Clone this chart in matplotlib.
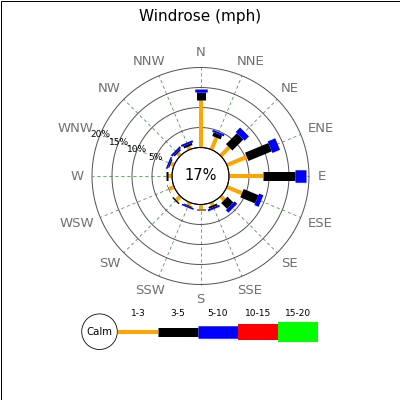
import numpy as np
import matplotlib
matplotlib.use("Agg")
import matplotlib.pyplot as plt
from matplotlib.patches import Circle, Rectangle
from matplotlib.transforms import ScaledTranslation

# frequencies (%) per direction and speed class
directions = ["N", "NNE", "NE", "ENE", "E", "ESE", "SE", "SSE",
              "S", "SSW", "SW", "WSW", "W", "WNW", "NW", "NNW"]
speed_1_3 = [12.0, 3.25, 3.0, 5.4, 8.6, 4.1, 1.3, 0.8,
             1.0, 0.8, 1.4, 1.4, 1.1, 0.9, 0.9, 0.8]
speed_3_5 = [1.9, 1.0, 3.9, 6.3, 7.9, 4.0, 2.1, 0.5,
             0.35, 0.2, 0.35, 0.1, 0.3, 0.3, 0.4, 0.6]
speed_5_10 = [0.65, 0.5, 1.55, 2.05, 2.75, 1.15, 0.9, 0.5,
              0.0, 0.4, 0.0, 0.0, 0.0, 0.4, 0.5, 0.5]
speed_10_15 = [0.0] * 16
speed_15_20 = [0.0] * 16
calm = "17%"

classes = ["1-3", "3-5", "5-10", "10-15", "15-20"]
colors = ["#ffa500", "#000000", "#0000ff", "#ff0000", "#00ff00"]
widths_px = [4, 9, 12.5, 16, 20]
rings = [5, 10, 15, 20]

dpi = 100
px = 72 / dpi  # points per pixel
fig = plt.figure(figsize=(4, 4), dpi=dpi)

# background axes in pixel coords: frame, title, legend
bg = fig.add_axes([0, 0, 1, 1])
bg.set_xlim(0, 400)
bg.set_ylim(400, 0)
bg.axis("off")
bg.add_patch(Rectangle((0.5, 0.5), 399, 399, fill=False, ec="black", lw=1 * px))
bg.text(200, 16, "Windrose (mph)", ha="center", va="center", fontsize=11)

bg.add_patch(Circle((99.5, 331.7), 17.8, fill=False, ec="black", lw=0.8 * px))
bg.text(99.5, 331.7, "Calm", ha="center", va="center", fontsize=7.3)
for i, (lab, c, w) in enumerate(zip(classes, colors, widths_px)):
    x0 = 118 + 40 * i
    bg.plot([x0, x0 + 40], [331.7, 331.7], color=c, lw=w * px, solid_capstyle="butt")
    bg.text(x0 + 20, 314, lab, ha="center", va="center", fontsize=6.5)

# the rose
cx, cy, R = 200.5, 176, 108.5
calm_r = 28.5
scale = 4.0  # px per percent
ax = fig.add_axes([(cx - R) / 400, 1 - (cy + R) / 400, 2 * R / 400, 2 * R / 400],
                  projection="polar")
ax.set_facecolor("none")
ax.set_theta_zero_location("N")
ax.set_theta_direction(-1)
ax.set_rlim(0, 20)
ax.set_rorigin(-calm_r / scale)
ax.grid(False)
ax.set_xticks([])
ax.set_yticks([])
for s in ax.spines.values():
    s.set_visible(False)

theta = np.deg2rad(np.arange(16) * 22.5)
full = np.linspace(0, 2 * np.pi, 361)

for t in theta:
    ax.plot([t, t], [0, 20], color="#4f944f", lw=0.8 * px, ls=(0, (4, 3.5)), clip_on=False)
for r in rings:
    ax.plot(full, [r] * len(full), color="#555555", lw=1.0 * px, clip_on=False)
ax.plot(full, [0] * len(full), color="#222222", lw=0.9 * px, clip_on=False)

series = [speed_1_3, speed_3_5, speed_5_10, speed_10_15, speed_15_20]
base = np.zeros(16)
for vals, c, w in zip(series, colors, widths_px):
    vals = np.array(vals)
    for t, b, v in zip(theta, base, vals):
        if v > 0:
            ax.plot([t, t], [b, b + v], color=c, lw=w * px, solid_capstyle="butt",
                    clip_on=False)
    base = base + vals

# direction labels: box pushed outward from an anchor ring
r_lab = (117 - calm_r) / scale
labels = []
for t, d in zip(theta, directions):
    labels.append(ax.text(t, r_lab, d, ha="center", va="center",
                          fontsize=9.5, color="#707070"))
fig.canvas.draw()
rend = fig.canvas.get_renderer()
for t, txt in zip(theta, labels):
    bb = txt.get_window_extent(rend)
    dx = 0.5 * np.sin(t) * bb.width / dpi
    dy = 0.5 * np.cos(t) * bb.height / dpi
    txt.set_transform(ax.transData + ScaledTranslation(dx, dy, fig.dpi_scale_trans))

t_lab = np.deg2rad(292.5)
for r in rings:
    ax.text(t_lab, r, f"{r}%", ha="center", va="center", fontsize=6.5)

ax.text(0.5, 0.5, calm, transform=ax.transAxes, ha="center", va="center", fontsize=10.5)

fig.savefig("out.png", dpi=dpi)
